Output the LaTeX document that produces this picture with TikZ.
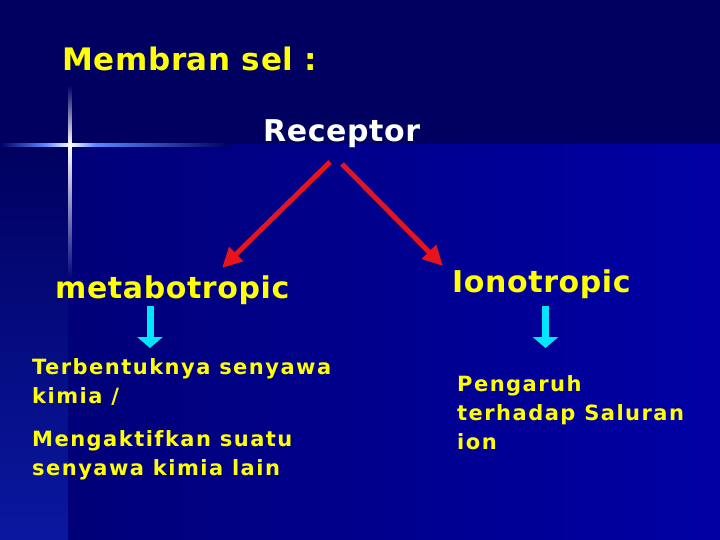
\documentclass[tikz,border=0pt]{standalone}
\usepackage{fontspec}
\setmainfont{DejaVu Sans}
\newfontfamily\slidefont[LetterSpace=2]{DejaVu Sans}
\newfontfamily\bodyfont[LetterSpace=7]{DejaVu Sans}
\usetikzlibrary{arrows.meta}
\definecolor{navytop}{HTML}{000060}
\definecolor{navyleft}{HTML}{000078}
\definecolor{navyright}{HTML}{0000A4}
\definecolor{navybottom}{HTML}{0A18A0}
\definecolor{slideyellow}{HTML}{FFFF00}
\definecolor{slidered}{HTML}{E8141C}
\definecolor{slidecyan}{HTML}{00E6FA}
\definecolor{glow}{HTML}{5A86FF}
\begin{document}
\begin{tikzpicture}[
	x=1pt,y=-1pt,
	bigtext/.style={anchor=base west,inner sep=0pt,font=\slidefont\bfseries\fontsize{30}{36}\selectfont},
	desc/.style={anchor=north west,inner sep=0pt,align=left,text=slideyellow,font=\bodyfont\bfseries\fontsize{21}{29}\selectfont},
	redarrow/.style={draw=slidered,line width=5pt,-{Triangle[length=20pt,width=19pt]}},
	cyanarrow/.style={draw=slidecyan,line width=7pt,-{Triangle[length=11pt,width=25pt]}}
	]
	\useasboundingbox (0,0) rectangle (720,540);
	% background
	\fill[navytop] (0,0) rectangle (720,145);
	\shade[left color=navyleft,right color=navyright] (68,145) rectangle (720,540);
	\shade[top color=navytop,bottom color=navybottom] (0,145) rectangle (68,540);
	% sparkle
	\shade[left color=navytop,right color=glow] (0,143.5) rectangle (45,146.5);
	\shade[left color=glow,right color=white] (45,143.5) rectangle (70,146.5);
	\shade[left color=white,right color=glow] (70,143.5) rectangle (95,146.5);
	\shade[left color=glow,right color=navytop] (95,143.5) rectangle (230,146.5);
	\shade[top color=navytop,bottom color=white] (68.5,85) rectangle (71.5,145);
	\shade[top color=white,bottom color=navyleft] (68.5,145) rectangle (71.5,280);
	
	\node[bigtext,text=slideyellow,font=\slidefont\bfseries\fontsize{31}{38}\selectfont] (title) at (62,71) {Membran sel :};
	\node[bigtext,text=white] (rec) at (263,142) {Receptor};
	\node[bigtext,text=slideyellow] (meta) at (55,298) {metabotropic};
	\node[bigtext,text=slideyellow] (iono) at (452,292) {Ionotropic};
	
	\node[desc] (metaDesc) at (32,358) {Terbentuknya senyawa\\kimia /\\[14pt]Mengaktifkan suatu\\senyawa kimia lain};
	\node[desc] (ionoDesc) at (457,375) {Pengaruh\\terhadap Saluran\\ion};
	
	\draw[redarrow] ([shift={(67,20)}]rec.base west) -- ([shift={(167,-30)}]meta.base west);
	\draw[redarrow] ([shift={(79,22)}]rec.base west) -- ([shift={(-9,-26)}]iono.base west);
	\draw[cyanarrow] ([shift={(95,8)}]meta.base west) -- ([shift={(118,-10)}]metaDesc.north west);
	\draw[cyanarrow] ([shift={(93.5,14)}]iono.base west) -- ([shift={(88.5,-27)}]ionoDesc.north west);
\end{tikzpicture}
\end{document}
